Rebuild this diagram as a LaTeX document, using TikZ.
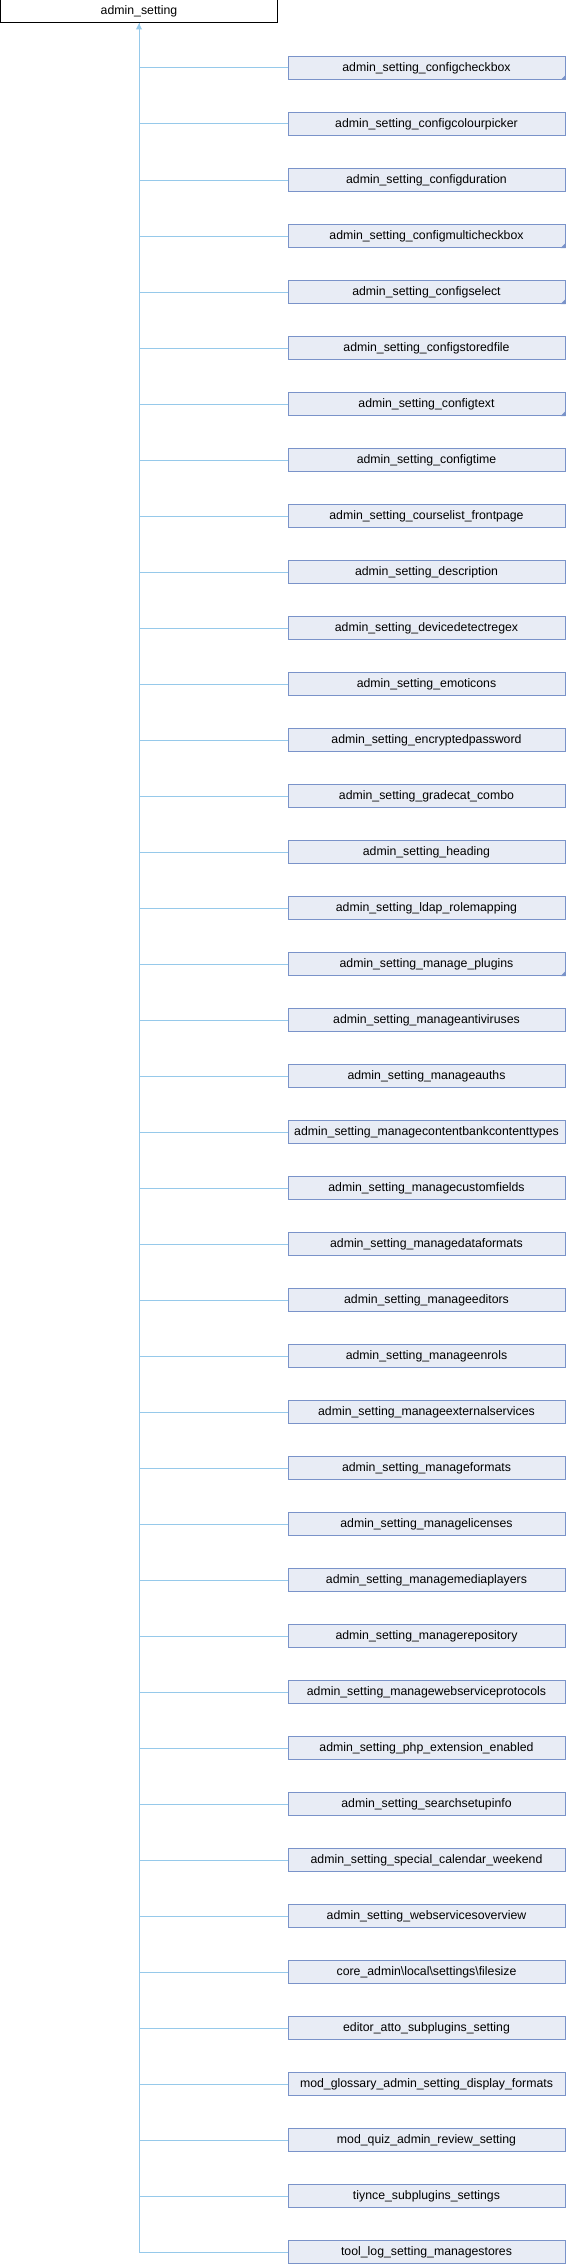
\documentclass[tikz,border=0pt]{standalone}
\usepackage{fontspec}
\setmainfont{Liberation Sans}
\usepackage{tikz}
\usetikzlibrary{arrows.meta}

\definecolor{boxfill}{HTML}{E8ECF5}
\definecolor{boxline}{HTML}{7A93C9}
\definecolor{linkline}{HTML}{96C9EA}

\begin{document}
\begin{tikzpicture}[>=stealth, node distance=56pt]
			\tikzstyle{base} = [draw=black, line width=1pt, fill=white, minimum width=277pt, minimum height=23pt, inner sep=0pt, font=\fontsize{12.3}{14}\selectfont]
			\tikzstyle{derived} = [draw=boxline, line width=1pt, fill=boxfill, minimum width=277pt, minimum height=23pt, inner sep=0pt, font=\fontsize{12.3}{14}\selectfont]
			\tikzstyle{link} = [draw=linkline, line width=1pt, to path={-| (\tikztotarget)}]
			\tikzstyle{corner} = [fill=boxline]
			\useasboundingbox (0pt,0pt) rectangle (566pt,-2264pt);
			\begin{scope}
			\path
			node[base] (root) at (139pt,-11.5pt) {admin\_setting}
			node[derived] (d1) at (426.5pt,-68pt) {admin\_setting\_configcheckbox}
			node[derived, below of=d1] (d2) {admin\_setting\_configcolourpicker}
			node[derived, below of=d2] (d3) {admin\_setting\_configduration}
			node[derived, below of=d3] (d4) {admin\_setting\_configmulticheckbox}
			node[derived, below of=d4] (d5) {admin\_setting\_configselect}
			node[derived, below of=d5] (d6) {admin\_setting\_configstoredfile}
			node[derived, below of=d6] (d7) {admin\_setting\_configtext}
			node[derived, below of=d7] (d8) {admin\_setting\_configtime}
			node[derived, below of=d8] (d9) {admin\_setting\_courselist\_frontpage}
			node[derived, below of=d9] (d10) {admin\_setting\_description}
			node[derived, below of=d10] (d11) {admin\_setting\_devicedetectregex}
			node[derived, below of=d11] (d12) {admin\_setting\_emoticons}
			node[derived, below of=d12] (d13) {admin\_setting\_encryptedpassword}
			node[derived, below of=d13] (d14) {admin\_setting\_gradecat\_combo}
			node[derived, below of=d14] (d15) {admin\_setting\_heading}
			node[derived, below of=d15] (d16) {admin\_setting\_ldap\_rolemapping}
			node[derived, below of=d16] (d17) {admin\_setting\_manage\_plugins}
			node[derived, below of=d17] (d18) {admin\_setting\_manageantiviruses}
			node[derived, below of=d18] (d19) {admin\_setting\_manageauths}
			node[derived, below of=d19] (d20) {admin\_setting\_managecontentbankcontenttypes}
			node[derived, below of=d20] (d21) {admin\_setting\_managecustomfields}
			node[derived, below of=d21] (d22) {admin\_setting\_managedataformats}
			node[derived, below of=d22] (d23) {admin\_setting\_manageeditors}
			node[derived, below of=d23] (d24) {admin\_setting\_manageenrols}
			node[derived, below of=d24] (d25) {admin\_setting\_manageexternalservices}
			node[derived, below of=d25] (d26) {admin\_setting\_manageformats}
			node[derived, below of=d26] (d27) {admin\_setting\_managelicenses}
			node[derived, below of=d27] (d28) {admin\_setting\_managemediaplayers}
			node[derived, below of=d28] (d29) {admin\_setting\_managerepository}
			node[derived, below of=d29] (d30) {admin\_setting\_managewebserviceprotocols}
			node[derived, below of=d30] (d31) {admin\_setting\_php\_extension\_enabled}
			node[derived, below of=d31] (d32) {admin\_setting\_searchsetupinfo}
			node[derived, below of=d32] (d33) {admin\_setting\_special\_calendar\_weekend}
			node[derived, below of=d33] (d34) {admin\_setting\_webservicesoverview}
			node[derived, below of=d34] (d35) {core\_admin\textbackslash local\textbackslash settings\textbackslash filesize}
			node[derived, below of=d35] (d36) {editor\_atto\_subplugins\_setting}
			node[derived, below of=d36] (d37) {mod\_glossary\_admin\_setting\_display\_formats}
			node[derived, below of=d37] (d38) {mod\_quiz\_admin\_review\_setting}
			node[derived, below of=d38] (d39) {tiynce\_subplugins\_settings}
			node[derived, below of=d39] (d40) {tool\_log\_setting\_managestores}
			;
			\path
			(d1.west) edge[link] (root.south)
			(d2.west) edge[link] (root.south)
			(d3.west) edge[link] (root.south)
			(d4.west) edge[link] (root.south)
			(d5.west) edge[link] (root.south)
			(d6.west) edge[link] (root.south)
			(d7.west) edge[link] (root.south)
			(d8.west) edge[link] (root.south)
			(d9.west) edge[link] (root.south)
			(d10.west) edge[link] (root.south)
			(d11.west) edge[link] (root.south)
			(d12.west) edge[link] (root.south)
			(d13.west) edge[link] (root.south)
			(d14.west) edge[link] (root.south)
			(d15.west) edge[link] (root.south)
			(d16.west) edge[link] (root.south)
			(d17.west) edge[link] (root.south)
			(d18.west) edge[link] (root.south)
			(d19.west) edge[link] (root.south)
			(d20.west) edge[link] (root.south)
			(d21.west) edge[link] (root.south)
			(d22.west) edge[link] (root.south)
			(d23.west) edge[link] (root.south)
			(d24.west) edge[link] (root.south)
			(d25.west) edge[link] (root.south)
			(d26.west) edge[link] (root.south)
			(d27.west) edge[link] (root.south)
			(d28.west) edge[link] (root.south)
			(d29.west) edge[link] (root.south)
			(d30.west) edge[link] (root.south)
			(d31.west) edge[link] (root.south)
			(d32.west) edge[link] (root.south)
			(d33.west) edge[link] (root.south)
			(d34.west) edge[link] (root.south)
			(d35.west) edge[link] (root.south)
			(d36.west) edge[link] (root.south)
			(d37.west) edge[link] (root.south)
			(d38.west) edge[link] (root.south)
			(d39.west) edge[link] (root.south)
			(d40.west) edge[link, -{Triangle[width=6pt, length=6pt]}] (root.south)
			;
			% small corner marks on classes with further subclasses
			\fill[corner] (d1.south east) -- ++(-5pt,0pt) -- ++(5pt,5pt) -- cycle;
			\fill[corner] (d4.south east) -- ++(-5pt,0pt) -- ++(5pt,5pt) -- cycle;
			\fill[corner] (d5.south east) -- ++(-5pt,0pt) -- ++(5pt,5pt) -- cycle;
			\fill[corner] (d7.south east) -- ++(-5pt,0pt) -- ++(5pt,5pt) -- cycle;
			\fill[corner] (d17.south east) -- ++(-5pt,0pt) -- ++(5pt,5pt) -- cycle;
			\end{scope}
			\end{tikzpicture}
\end{document}
